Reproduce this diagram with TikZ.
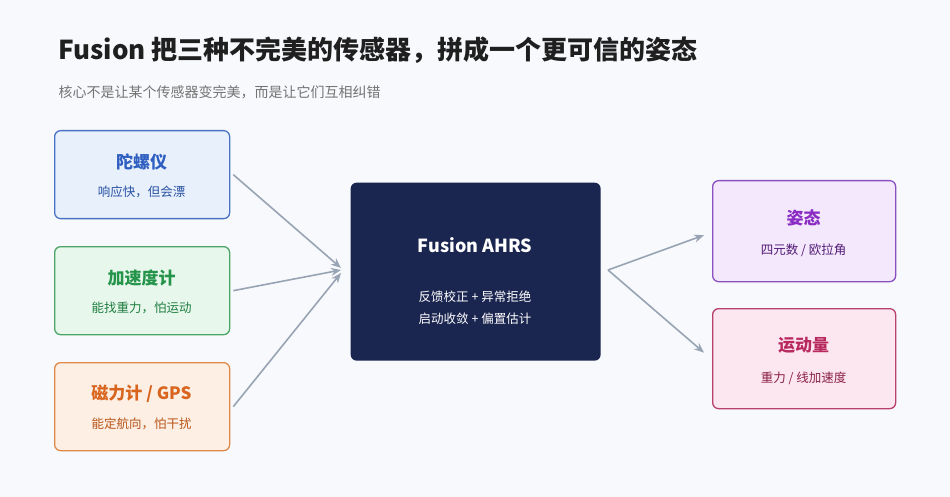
\documentclass[tikz,border=0pt]{standalone}
\usepackage{fontspec}
\setmainfont{Noto Sans CJK SC}
\usetikzlibrary{arrows.meta,calc}
\definecolor{bg}{HTML}{F7F9FC}
\definecolor{arr}{HTML}{98A4B3}
\definecolor{navy}{HTML}{1A2550}
\definecolor{gB}{HTML}{4A72C4}\definecolor{gF}{HTML}{E8F0FC}\definecolor{gT}{HTML}{2F5FC0}
\definecolor{aB}{HTML}{4CA565}\definecolor{aF}{HTML}{E8F7EC}\definecolor{aT}{HTML}{24944A}
\definecolor{mB}{HTML}{E08A4A}\definecolor{mF}{HTML}{FDEFE4}\definecolor{mT}{HTML}{D8641E}
\definecolor{pB}{HTML}{8A4FC0}\definecolor{pF}{HTML}{F3E8FC}\definecolor{pT}{HTML}{8A2CC4}
\definecolor{rB}{HTML}{B8406C}\definecolor{rF}{HTML}{FCE6EF}\definecolor{rT}{HTML}{B82A5E}
\tikzset{x=1pt,y=-1pt,
 box/.style={draw,line width=1.3pt,rounded corners=6pt,anchor=north west,inner sep=0pt},
 ttl/.style={font=\fontsize{17}{20}\selectfont\bfseries},
 sub/.style={font=\fontsize{12.5}{15}\selectfont},
 con/.style={draw=arr,line width=1.6pt,-{Stealth[length=10pt,width=8pt]}}}
\begin{document}
\begin{tikzpicture}
\fill[bg] (0,0) rectangle (950,497);
\useasboundingbox (0,0) rectangle (950,497);
\node[anchor=west,font=\fontsize{26}{30}\selectfont\bfseries,text=black!88] (title) at (55,50) {Fusion 把三种不完美的传感器，拼成一个更可信的姿态};
\node[anchor=west,font=\fontsize{14}{17}\selectfont,text=black!55] (subt) at (55,92) {核心不是让某个传感器变完美，而是让它们互相纠错};
% inputs
\node[box,draw=gB,fill=gF,minimum width=175pt,minimum height=88pt] (g) at (54,130) {};
\node[ttl,text=gT] at (141.5,162) {陀螺仪};
\node[sub,text=gT!85!black] at (141.5,192) {响应快，但会漂};
\node[box,draw=aB,fill=aF,minimum width=175pt,minimum height=88pt] (a) at (54,246) {};
\node[ttl,text=aT] at (141.5,278) {加速度计};
\node[sub,text=aT!85!black] at (141.5,308) {能找重力，怕运动};
\node[box,draw=mB,fill=mF,minimum width=175pt,minimum height=88pt] (m) at (54,362) {};
\node[ttl,text=mT] at (141.5,394) {磁力计 / GPS};
\node[sub,text=mT!85!black] at (141.5,424) {能定航向，怕干扰};
% center
\node[box,draw=none,fill=navy,minimum width=250pt,minimum height=178pt] (c) at (350,182) {};
\node[font=\fontsize{18}{22}\selectfont\bfseries,text=white] at (475,245) {Fusion AHRS};
\node[sub,text=white] at (475,297) {反馈校正 + 异常拒绝};
\node[sub,text=white] at (475,319) {启动收敛 + 偏置估计};
% outputs
\node[box,draw=pB,fill=pF,minimum width=183pt,minimum height=101pt] (o1) at (712,180) {};
\node[ttl,text=pT] at (803.5,218) {姿态};
\node[sub,text=pT!60!black] at (803.5,250) {四元数 / 欧拉角};
\node[box,draw=rB,fill=rF,minimum width=183pt,minimum height=100pt] (o2) at (712,308) {};
\node[ttl,text=rT] at (803.5,345) {运动量};
\node[sub,text=rT!75!black] at (803.5,378) {重力 / 线加速度};
% connectors
\coordinate (ci) at (341,270);
\coordinate (co) at (608,270);
\draw[con] ($(g.east)+(3,0)$) -- (341,268);
\draw[con] ($(a.east)+(3,0)$) -- (ci);
\draw[con] ($(m.east)+(3,0)$) -- (341,273);
\draw[con] (co) -- ($(o1.west)+(-8,4)$);
\draw[con] (co) -- ($(o2.west)+(-8,-6)$);
\end{tikzpicture}
\end{document}
